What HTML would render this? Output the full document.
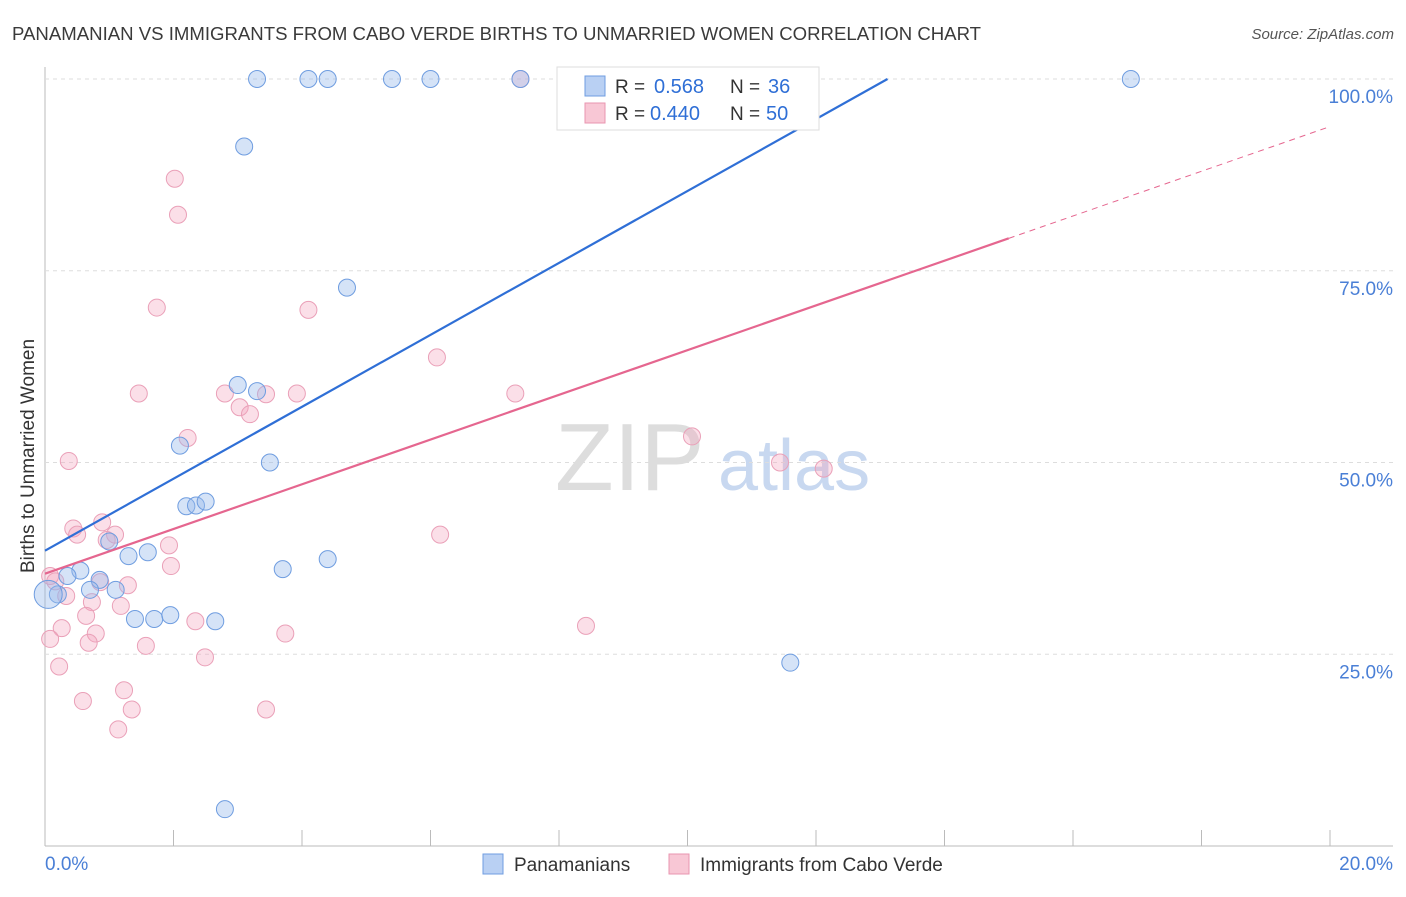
<!DOCTYPE html>
<html><head><meta charset="utf-8"><style>
body{margin:0;background:#fff;font-family:"Liberation Sans",sans-serif}
svg text{font-family:"Liberation Sans",sans-serif}
</style></head><body>
<svg id="c" width="1406" height="892">
<text x="12" y="40" font-size="18.6" fill="#3a3a3a">PANAMANIAN VS IMMIGRANTS FROM CABO VERDE BIRTHS TO UNMARRIED WOMEN CORRELATION CHART</text>
<text x="1394" y="39" font-size="15" fill="#555" font-style="italic" text-anchor="end">Source: ZipAtlas.com</text>
<g><text x="555" y="490" font-size="96" fill="#ddd" font-family="Liberation Serif,serif">ZIP</text><text x="718" y="490" font-size="72" fill="#c8d8f0">atlas</text></g>
<text transform="translate(34,456) rotate(-90)" font-size="19" fill="#333" text-anchor="middle">Births to Unmarried Women</text>
<g id="grid"></g><g id="pts"></g><g id="lines"></g>
<g>
<rect x="557" y="67" width="262" height="63" fill="#fff" stroke="#ddd"/>
<rect x="585" y="76" width="20" height="20" fill="#b9d0f3" stroke="#6f9de0"/>
<rect x="585" y="103" width="20" height="20" fill="#f8c7d5" stroke="#e996b0"/>
<text x="615" y="93" font-size="19" fill="#333">R =</text><text x="654" y="93" font-size="20" fill="#2f6fd6">0.568</text>
<text x="730" y="93" font-size="19" fill="#333">N =</text><text x="768" y="93" font-size="20" fill="#2f6fd6">36</text>
<text x="615" y="120" font-size="19" fill="#333">R =</text><text x="650" y="120" font-size="20" fill="#2f6fd6">0.440</text>
<text x="730" y="120" font-size="19" fill="#333">N =</text><text x="766" y="120" font-size="20" fill="#2f6fd6">50</text>
</g>
<g>
<rect x="483" y="854" width="20" height="20" fill="#b9d0f3" stroke="#6f9de0"/>
<text x="514" y="871" font-size="19" fill="#333">Panamanians</text>
<rect x="669" y="854" width="20" height="20" fill="#f8c7d5" stroke="#e996b0"/>
<text x="700" y="871" font-size="19" fill="#333">Immigrants from Cabo Verde</text>
</g>
<text x="45" y="870" font-size="19" fill="#4a7fd6">0.0%</text>
<text x="1393" y="870" font-size="19" fill="#4a7fd6" text-anchor="end">20.0%</text>
</svg>
<script>
const blueX=[3.3,4.1,4.4,5.4,6.0,7.4,16.9,3.1,4.7,3.0,3.3,2.1,3.5,2.2,2.35,2.5,1.0,1.6,1.3,4.4,3.7,0.55,0.35,0.85,1.1,0.7,0.2,0.05,1.4,1.7,1.95,2.65,11.6,2.8,9.8];
const blueY=[100,100,100,100,100,100,100,91.2,72.8,60.1,59.3,52.2,50,44.3,44.4,44.9,39.7,38.3,37.8,37.4,36.1,35.9,35.2,34.7,33.4,33.4,32.8,32.8,29.6,29.6,30.1,29.3,23.9,4.8,100];
const pinkX=[7.4,2.02,2.07,1.74,4.1,6.1,1.46,2.8,3.44,3.92,7.32,3.03,3.19,2.22,0.37,10.07,11.44,12.12,0.44,0.89,0.5,1.09,0.96,6.15,1.93,1.96,0.08,0.16,1.29,0.86,0.33,0.73,0.64,1.18,2.34,0.26,0.79,0.08,3.74,8.42,1.57,0.68,2.49,0.22,0.59,1.23,1.35,3.44,1.14];
const pinkY=[100,87,82.3,70.2,69.9,63.7,59,59,58.9,59,59,57.2,56.3,53.2,50.2,53.4,50,49.2,41.4,42.2,40.6,40.6,39.9,40.6,39.2,36.5,35.2,34.5,34,34.4,32.6,31.8,30,31.3,29.3,28.4,27.7,27,27.7,28.7,26.1,26.5,24.6,23.4,18.9,20.3,17.8,17.8,15.2];
const blueFit=[38.5,4.69], pinkFit=[35.5,2.915];
const yTicks=[25,50,75,100];
const X=v=>45+v*64.25, Y=v=>846-v*7.67;
const NS="http://www.w3.org/2000/svg";
function mk(t,a,p){const e=document.createElementNS(NS,t);for(const k in a)e.setAttribute(k,a[k]);p.appendChild(e);return e;}
const grid=document.getElementById('grid');
const ax=mk('line',{x1:45,y1:67,x2:45,y2:846,stroke:'#bbb'},grid);


const bx=mk('line',{x1:45,y1:846,x2:1393,y2:846,stroke:'#bbb'},grid);


for(let i=1;i<=10;i++){const t=mk('line',{x1:X(i*2),y1:830,x2:X(i*2),y2:846,stroke:'#bbb'},grid);

}
yTicks.forEach(v=>{const g=mk('line',{x1:45,y1:Y(v),x2:1393,y2:Y(v),stroke:'#ddd','stroke-dasharray':'4,4'},grid);


const t=mk('text',{x:1393,y:Y(v)+24,'font-size':19,fill:'#4a7fd6','text-anchor':'end'},grid);t.textContent=v.toFixed(1)+'%';

});
const pts=document.getElementById('pts');
pinkX.forEach((x,i)=>{const c=mk('circle',{cx:X(x),cy:Y(pinkY[i]),r:8.5,fill:'rgba(244,164,190,0.35)',stroke:'#eaa0b8','stroke-width':1},pts);

});
blueX.forEach((x,i)=>{const c=mk('circle',{cx:X(x),cy:Y(blueY[i]),r:i==27?14:8.5,fill:'rgba(150,186,235,0.4)',stroke:'#6f9de0','stroke-width':1},pts);

});
const L=document.getElementById('lines');
const xb=(100-blueFit[0])/blueFit[1];
const l1=mk('line',{x1:X(0),y1:Y(blueFit[0]),x2:X(xb),y2:Y(100),stroke:'#2f6fd6','stroke-width':2.2},L);


const l2=mk('line',{x1:X(0),y1:Y(pinkFit[0]),x2:X(15),y2:Y(pinkFit[0]+15*pinkFit[1]),stroke:'#e5668f','stroke-width':2.2},L);


const l3=mk('line',{x1:X(15),y1:Y(pinkFit[0]+15*pinkFit[1]),x2:X(20),y2:Y(pinkFit[0]+20*pinkFit[1]),stroke:'#e5668f','stroke-width':1,'stroke-dasharray':'6,5'},L);


</script>
</body></html>
